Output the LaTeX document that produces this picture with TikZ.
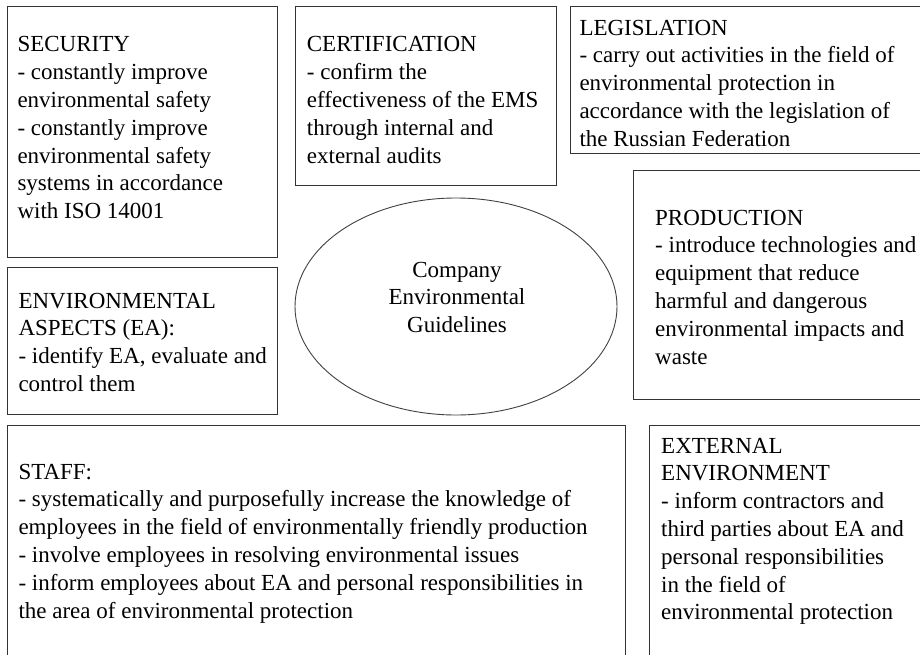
\documentclass[tikz,border=0pt]{standalone}
\usepackage{fontspec}
\setmainfont{Liberation Serif}
\usetikzlibrary{shapes.geometric}
\begin{document}
\begin{tikzpicture}[x=1pt,y=-1pt,
  box/.style={draw=black!80, line width=1.3pt, rectangle, anchor=north west, inner sep=0pt},
  txt/.style={anchor=north west, inner sep=0pt, align=left, text=black, font=\fontsize{23}{27.8}\selectfont},
  oval/.style={draw=black!75, line width=0.9pt, ellipse, inner sep=0pt},
]
\path[use as bounding box] (0,0) rectangle (920,655);
\clip (0,0) rectangle (920,655);
% boxes
\node[box, minimum width=270pt, minimum height=251pt] (sec) at (7,6) {};
\node[box, minimum width=261pt, minimum height=179pt] (cert) at (295,6) {};
\node[box, minimum width=360pt, minimum height=147pt] (leg) at (570,6) {};
\node[box, minimum width=297pt, minimum height=229pt] (prod) at (633,170) {};
\node[box, minimum width=270pt, minimum height=147pt] (ea) at (7,267) {};
\node[box, minimum width=618pt, minimum height=245pt] (staff) at (7,425) {};
\node[box, minimum width=281pt, minimum height=245pt] (ext) at (649,425) {};
\node[oval, minimum width=322pt, minimum height=217pt] (guide) at (456,306.5) {};
% texts
\node[txt] (secT) at (17.3,32.2) {\strut SECURITY\\- constantly improve\\environmental safety\\- constantly improve\\environmental safety\\systems in accordance\\with ISO 14001};
\node[txt] (certT) at (306.7,32.2) {\strut CERTIFICATION\\- confirm the\\effectiveness of the EMS\\through internal and\\external audits};
\node[txt] (legT) at (579.3,15.5) {\strut LEGISLATION\\- carry out activities in the field of\\environmental protection in\\accordance with the legislation of\\the Russian Federation};
\node[txt] (prodT) at (655,205.5) {\strut PRODUCTION\\- introduce technologies and\\equipment that reduce\\harmful and dangerous\\environmental impacts and\\waste};
\node[txt] (eaT) at (18.3,288.5) {\strut ENVIRONMENTAL\\ASPECTS (EA):\\- identify EA, evaluate and\\control them};
\node[txt] (staffT) at (18.3,459.5) {\strut STAFF:\\- systematically and purposefully increase the knowledge of\\employees in the field of environmentally friendly production\\- involve employees in resolving environmental issues\\- inform employees about EA and personal responsibilities in\\the area of environmental protection};
\node[txt] (extT) at (661,433.5) {\strut EXTERNAL\\ENVIRONMENT\\- inform contractors and\\third parties about EA and\\personal responsibilities\\in the field of\\environmental protection};
\node[txt, anchor=north, align=center] (guideT) at (457,257.5) {\strut Company\\Environmental\\Guidelines};
\end{tikzpicture}
\end{document}
